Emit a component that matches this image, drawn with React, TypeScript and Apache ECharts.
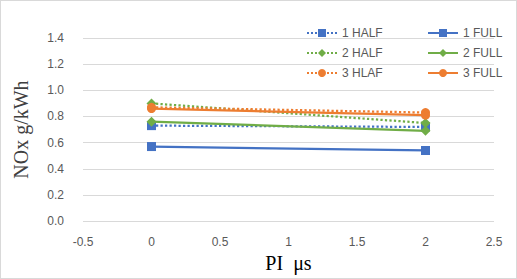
import React, { useEffect, useRef } from "react";
import * as echarts from "echarts";

const xValues = [0, 2];
const half1 = [0.73, 0.72];
const full1 = [0.57, 0.54];
const half2 = [0.9, 0.75];
const full2 = [0.76, 0.69];
const half3 = [0.87, 0.83];
const full3 = [0.86, 0.81];

const BLUE = "#4472C4";
const GREEN = "#70AD47";
const ORANGE = "#ED7D31";

function mk(name: string, vals: number[], color: string, dotted: boolean, symbol: string, size: number) {
  return {
    name,
    type: "line",
    data: xValues.map((x, i) => [x, vals[i]]),
    symbol,
    symbolSize: size,
    itemStyle: { color },
    lineStyle: { color, width: 2.25, type: dotted ? "dotted" : "solid" },
    z: dotted ? 2 : 3,
  };
}

export default function App() {
  const ref = useRef<HTMLDivElement>(null);
  useEffect(() => {
    document.body.style.margin = "0";
    const chart = echarts.init(ref.current!, null, { renderer: "svg" });
    const legendText = { color: "#595959", fontSize: 12, fontFamily: "Liberation Sans" };
    chart.setOption({
      animation: false,
      grid: { left: 82, right: 22, top: 37, bottom: 56 },
      legend: [
        {
          orient: "vertical",
          left: 300,
          top: 21,
          itemWidth: 30,
          itemHeight: 10,
          itemGap: 8,
          textStyle: legendText,
          data: ["1 HALF", "2 HALF", "3 HLAF"],
        },
        {
          orient: "vertical",
          left: 421,
          top: 21,
          itemWidth: 30,
          itemHeight: 10,
          itemGap: 8,
          textStyle: legendText,
          data: ["1 FULL", "2 FULL", "3 FULL"],
        },
      ],
      xAxis: {
        type: "value",
        min: -0.5,
        max: 2.5,
        interval: 0.5,
        name: "PI  μs",
        nameLocation: "middle",
        nameGap: 31,
        nameTextStyle: { fontFamily: "Liberation Serif", fontSize: 20, color: "#000" },
        axisLine: { show: false },
        axisTick: { show: false },
        splitLine: { show: false },
        axisLabel: { color: "#595959", fontSize: 12, fontFamily: "Liberation Sans", margin: 15 },
      },
      yAxis: {
        type: "value",
        min: 0,
        max: 1.4,
        interval: 0.2,
        name: "NOx g/kWh",
        nameLocation: "middle",
        nameGap: 52,
        nameTextStyle: { fontFamily: "Liberation Serif", fontSize: 20, color: "#404040" },
        axisLine: { show: false },
        axisTick: { show: false },
        splitLine: { lineStyle: { color: "#d9d9d9", width: 1 } },
        axisLabel: {
          color: "#595959",
          fontSize: 12,
          fontFamily: "Liberation Sans",
          margin: 19,
          formatter: (v: number) => v.toFixed(1),
        },
      },
      series: [
        mk("1 HALF", half1, BLUE, true, "rect", 9),
        mk("1 FULL", full1, BLUE, false, "rect", 9),
        mk("2 HALF", half2, GREEN, true, "diamond", 10),
        mk("2 FULL", full2, GREEN, false, "diamond", 10),
        mk("3 HLAF", half3, ORANGE, true, "circle", 9),
        mk("3 FULL", full3, ORANGE, false, "circle", 9),
      ],
    });
    return () => chart.dispose();
  }, []);
  return (
    <div
      ref={ref}
      style={{ width: 517, height: 279, boxSizing: "border-box", border: "1px solid #d9d9d9" }}
    />
  );
}
